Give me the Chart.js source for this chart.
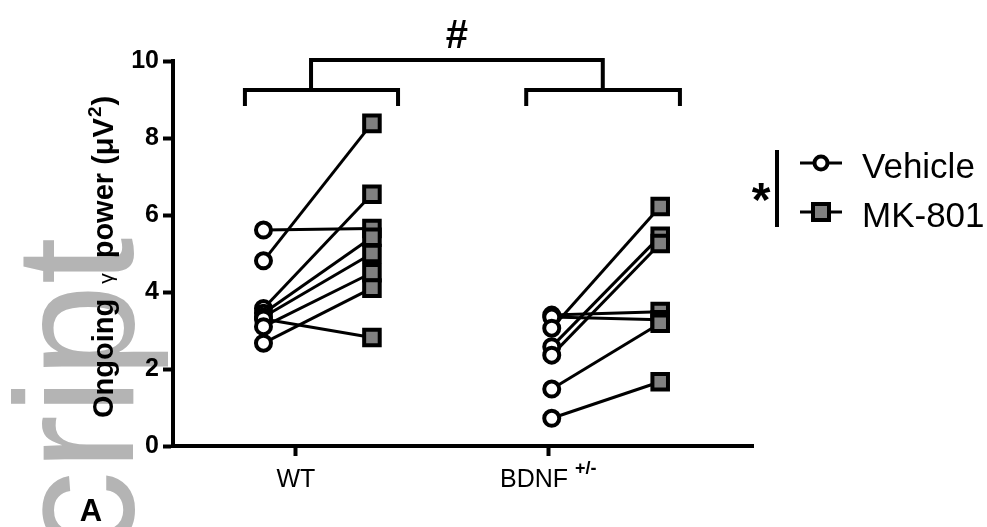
<!DOCTYPE html>
<html><head><meta charset="utf-8">
<script src="https://cdn.jsdelivr.net/npm/chart.js@4.4.0/dist/chart.umd.min.js"></script>
<style>html,body{margin:0;padding:0;background:#fff;overflow:hidden}</style>
</head><body>
<canvas id="c" width="987" height="527"></canvas>
<script>
// ---- data ----
const groups = ['WT', 'BDNF'];
const groupSuper = ['', '+/-'];
const seriesNames = ['Vehicle', 'MK-801'];
const wtVehicle   = [5.61, 4.81, 3.57, 3.45, 3.35, 3.30, 3.10, 2.67];
const wtMK801     = [5.65, 8.38, 6.54, 5.42, 5.00, 2.82, 4.50, 4.10];
const bdnfVehicle = [3.40, 3.35, 3.06, 2.58, 2.36, 1.48, 0.72];
const bdnfMK801   = [3.49, 3.28, 6.22, 5.45, 5.26, 3.19, 1.67];
const yTicks = [0, 2, 4, 6, 8, 10];
const sigBetweenGroups = '#';
const sigTreatment = '*';
const panelLabel = 'A';
const watermark = 'cript';

// ---- layout (positions on the x value scale, not data) ----
const XP = { wtVeh: 1.56, wtMK: 3.43, bdVeh: 6.53, bdMK: 8.40, wtTick: 2.12, bdTick: 6.47 };
const FONT = '"Liberation Sans", Arial, Helvetica, sans-serif';

const datasets = [];
function pairs(veh, mk, xv, xm) {
  veh.forEach((v, i) => {
    datasets.push({
      data: [{x: xv, y: v}, {x: xm, y: mk[i]}],
      showLine: true, borderColor: '#000', borderWidth: 3,
      pointRadius: 0, pointHoverRadius: 0, order: 3, clip: false
    });
  });
}
pairs(wtVehicle, wtMK801, XP.wtVeh, XP.wtMK);
pairs(bdnfVehicle, bdnfMK801, XP.bdVeh, XP.bdMK);

datasets.push({
  label: seriesNames[1],
  data: wtMK801.map(v => ({x: XP.wtMK, y: v})).concat(bdnfMK801.map(v => ({x: XP.bdMK, y: v}))),
  showLine: false, pointStyle: 'rect', pointRadius: 11, pointBorderWidth: 4,
  pointBackgroundColor: '#808080', pointBorderColor: '#000', order: 1, clip: false
});
datasets.push({
  label: seriesNames[0],
  data: wtVehicle.map(v => ({x: XP.wtVeh, y: v})).concat(bdnfVehicle.map(v => ({x: XP.bdVeh, y: v}))),
  showLine: false, pointStyle: 'circle', pointRadius: 7.5, pointBorderWidth: 4,
  pointBackgroundColor: '#fff', pointBorderColor: '#000', order: 0, clip: false
});

const deco = {
  id: 'deco',
  beforeDraw(chart) {
    const ctx = chart.ctx;
    ctx.save();
    ctx.fillStyle = '#fff';
    ctx.fillRect(0, 0, chart.width, chart.height);
    ctx.translate(133, 555);
    ctx.rotate(-Math.PI / 2);
    ctx.font = '168px ' + FONT;
    ctx.fillStyle = '#b4b4b4';
    ctx.textAlign = 'left';
    ctx.textBaseline = 'alphabetic';
    ctx.fillText(watermark, 0, 0);
    ctx.restore();
  },
  afterDraw(chart) {
    const ctx = chart.ctx, xs = chart.scales.x;
    const px = v => xs.getPixelForValue(v);
    ctx.save();
    ctx.strokeStyle = '#000'; ctx.fillStyle = '#000';
    ctx.lineWidth = 4; ctx.lineCap = 'butt'; ctx.lineJoin = 'miter';
    // brackets
    const yMid = 90, yEnd = 106, yTop = 60;
    function bracket(a, b) {
      ctx.beginPath();
      ctx.moveTo(a, yEnd); ctx.lineTo(a, yMid); ctx.lineTo(b, yMid); ctx.lineTo(b, yEnd);
      ctx.stroke();
    }
    bracket(px(1.24), px(3.88));
    bracket(px(6.09), px(8.74));
    ctx.beginPath();
    ctx.moveTo(px(2.38), yMid); ctx.lineTo(px(2.38), yTop); ctx.lineTo(px(7.41), yTop); ctx.lineTo(px(7.41), yMid);
    ctx.stroke();
    ctx.font = 'bold 40px ' + FONT;
    ctx.textAlign = 'center'; ctx.textBaseline = 'alphabetic';
    ctx.fillText(sigBetweenGroups, (px(2.38) + px(7.41)) / 2, 48);

    // x category labels
    const tickPos = [XP.wtTick, XP.bdTick];
    groups.forEach((g, i) => {
      ctx.font = '25px ' + FONT;
      const w1 = ctx.measureText(g).width;
      let w2 = 0;
      if (groupSuper[i]) { ctx.font = 'bold 18px ' + FONT; w2 = ctx.measureText(groupSuper[i]).width + 7; }
      const start = px(tickPos[i]) - (w1 + w2) / 2;
      ctx.textAlign = 'left';
      ctx.font = '25px ' + FONT;
      ctx.fillText(g, start, 487);
      if (groupSuper[i]) { ctx.font = 'bold 18px ' + FONT; ctx.fillText(groupSuper[i], start + w1 + 7, 474); }
    });

    // y axis title (rotated), reading bottom to top
    ctx.save();
    ctx.translate(113, 418);
    ctx.rotate(-Math.PI / 2);
    ctx.textAlign = 'left';
    const parts = [
      ['Ongoing', 'bold 29px ' + FONT, 0, 15],
      ['\u03b3', '21px ' + FONT, 0, 15],
      ['power (\u03bcV', 'bold 29px ' + FONT, 0, 1],
      ['2', 'bold 19px ' + FONT, -12, 1],
      [')', 'bold 29px ' + FONT, 0, 0]
    ];
    let cx = 0;
    parts.forEach(p => { ctx.font = p[1]; ctx.fillText(p[0], cx, p[2]); cx += ctx.measureText(p[0]).width + p[3]; });
    ctx.restore();

    // legend
    ctx.lineWidth = 4;
    ctx.beginPath(); ctx.moveTo(777, 150); ctx.lineTo(777, 227); ctx.stroke();
    ctx.font = 'bold 48px ' + FONT; ctx.textAlign = 'center';
    ctx.fillText(sigTreatment, 761, 216);
    [[163, 'circle'], [212, 'rect']].forEach((m, i) => {
      ctx.lineWidth = 3;
      ctx.beginPath(); ctx.moveTo(800, m[0]); ctx.lineTo(842, m[0]); ctx.stroke();
      ctx.lineWidth = 4;
      if (m[1] === 'circle') {
        ctx.beginPath(); ctx.arc(821, m[0], 6.5, 0, Math.PI * 2);
        ctx.fillStyle = '#fff'; ctx.fill(); ctx.stroke();
      } else {
        ctx.fillStyle = '#808080'; ctx.fillRect(813, m[0] - 8, 16, 16);
        ctx.strokeRect(813, m[0] - 8, 16, 16);
      }
      ctx.fillStyle = '#000';
      ctx.font = '35px ' + FONT; ctx.textAlign = 'left';
      ctx.fillText(seriesNames[i], 862, m[0] + 15);
    });

    // panel label
    ctx.font = 'bold 31px ' + FONT; ctx.textAlign = 'center';
    ctx.fillText(panelLabel, 91, 521);
    ctx.restore();
  }
};

new Chart(document.getElementById('c'), {
  type: 'scatter',
  data: { datasets },
  options: {
    responsive: false, animation: false, devicePixelRatio: 1,
    layout: { padding: { left: 0, top: 61, right: 234, bottom: 0 } },
    plugins: { legend: { display: false }, tooltip: { enabled: false } },
    scales: {
      x: {
        type: 'linear', min: 0, max: 10,
        afterFit: s => { s.height = 81; },
        afterBuildTicks: s => { s.ticks = [{value: XP.wtTick}, {value: XP.bdTick}]; },
        ticks: { display: false },
        grid: { drawOnChartArea: false, drawTicks: true, tickLength: 10, tickWidth: 4, tickColor: '#000' },
        border: { display: true, color: '#000', width: 4 }
      },
      y: {
        type: 'linear', min: 0, max: 10,
        afterFit: s => { s.width = 173; },
        afterBuildTicks: s => { s.ticks = yTicks.map(v => ({value: v})); },
        ticks: { color: '#000', font: { family: FONT, size: 25, weight: 'bold' }, padding: 4 },
        grid: { drawOnChartArea: false, drawTicks: true, tickLength: 10, tickWidth: 4, tickColor: '#000' },
        border: { display: true, color: '#000', width: 4 }
      }
    }
  },
  plugins: [deco]
});
</script>
</body></html>
